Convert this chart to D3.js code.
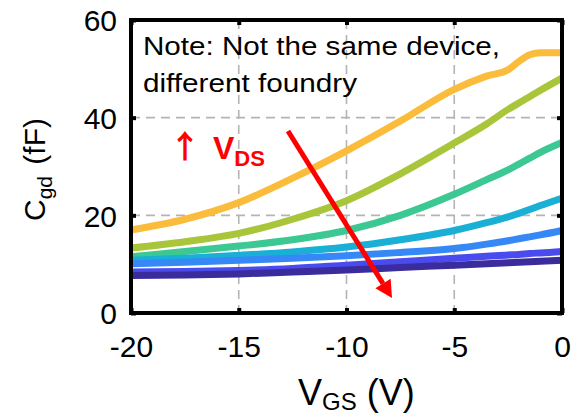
<!DOCTYPE html>
<html>
<head>
<meta charset="utf-8">
<script src="https://cdn.jsdelivr.net/npm/d3@7"></script>
<style>
  body { margin: 0; background: #fff; }
  svg { display: block; }
  text { font-family: "Liberation Sans", Arial, Helvetica, sans-serif; }
</style>
</head>
<body>
<svg id="chart" width="578" height="414"></svg>
<script>
// Gate voltage sweep (V)
const vgs = [-20, -17.5, -15, -12.5, -10, -7.5, -5, -3.5, -2.5, -2, -1.5, -1, 0];

// Cgd (fF), one curve per drain bias, lowest VDS first
const cgdVds1 = [17.0, 19.2, 22.6, 27.6, 33.2, 39.3, 45.8, 48.5, 49.8, 51.5, 52.9, 53.3, 53.3];
const cgdVds2 = [13.3, 14.6, 16.3, 19.2, 23.0, 28.5, 34.8, 38.7, 41.7, 43.0, 44.3, 45.6, 48.1];
const cgdVds3 = [11.5, 12.6, 13.7, 15.0, 16.9, 20.0, 24.3, 27.3, 29.3, 30.5, 31.7, 32.9, 34.9];
const cgdVds4 = [10.8, 11.2, 11.8, 12.5, 13.5, 15.0, 16.9, 18.5, 19.7, 20.4, 21.2, 22.0, 23.5];
const cgdVds5 = [10.1, 10.4, 10.8, 11.2, 11.7, 12.4, 13.2, 14.1, 14.8, 15.2, 15.6, 16.0, 16.9];
const cgdVds6 = [8.4, 8.5, 8.7, 9.1, 9.8, 10.5, 11.2, 11.6, 11.9, 12.0, 12.2, 12.3, 12.6];
const cgdVds7 = [7.7, 7.8, 8.0, 8.4, 8.8, 9.3, 9.8, 10.1, 10.3, 10.4, 10.5, 10.6, 10.8];

const seriesList = [cgdVds1, cgdVds2, cgdVds3, cgdVds4, cgdVds5, cgdVds6, cgdVds7];
const seriesColors = ["#FCBC3B", "#A9C539", "#3CC893", "#1AAFD5", "#3688F6", "#4A4BEE", "#3B2C9E"];

const xTicks = [-20, -15, -10, -5, 0];
const yTicks = [0, 20, 40, 60];

const svg = d3.select("#chart");
const plotL = 131, plotR = 562, plotT = 20, plotB = 313;

const x = d3.scaleLinear().domain([-20, 0]).range([plotL, plotR]);
const y = d3.scaleLinear().domain([0, 60]).range([plotB, plotT]);

// dashed grid
const grid = svg.append("g").attr("stroke", "#b4b4b4").attr("stroke-width", 1.6)
  .attr("stroke-dasharray", "9,6");
grid.selectAll(".gx").data(xTicks.slice(1, -1)).join("line")
  .attr("x1", d => x(d)).attr("x2", d => x(d)).attr("y1", plotT).attr("y2", plotB);
grid.selectAll(".gy").data(yTicks.slice(1, -1)).join("line")
  .attr("x1", plotL).attr("x2", plotR).attr("y1", d => y(d)).attr("y2", d => y(d));

// curves
const line = d3.line().x((d, i) => x(vgs[i])).y(d => y(d)).curve(d3.curveMonotoneX);
svg.append("g").selectAll("path").data(seriesList).join("path")
  .attr("d", d => line(d))
  .attr("fill", "none")
  .attr("stroke", (d, i) => seriesColors[i])
  .attr("stroke-width", 7)
  .attr("stroke-linejoin", "round");

// axes with inward ticks; labels use a plain hyphen for the sign
const tickLen = 5;
const plainFmt = d => String(d);
const xAxisB = d3.axisBottom(x).tickValues(xTicks).tickSize(-tickLen).tickPadding(23)
  .tickFormat(plainFmt);
const xAxisT = d3.axisTop(x).tickValues(xTicks).tickSize(-tickLen).tickFormat("");
const yAxisL = d3.axisLeft(y).tickValues(yTicks).tickSize(-tickLen).tickPadding(14)
  .tickFormat(plainFmt);
const yAxisR = d3.axisRight(y).tickValues(yTicks).tickSize(-tickLen).tickFormat("");

function styleAxis(g) {
  g.select(".domain").remove();
  g.selectAll(".tick line").attr("stroke", "#000").attr("stroke-width", 4);
  g.selectAll(".tick text").attr("fill", "#000").attr("font-size", 30);
}
svg.append("g").attr("transform", `translate(0,${plotB})`).call(xAxisB).call(styleAxis)
  .selectAll(".tick text").attr("dy", "0.71em");
svg.append("g").attr("transform", `translate(0,${plotT})`).call(xAxisT).call(styleAxis);
svg.append("g").attr("transform", `translate(${plotL},0)`).call(yAxisL).call(styleAxis)
  .selectAll(".tick text").attr("dy", "0.36em");
svg.append("g").attr("transform", `translate(${plotR},0)`).call(yAxisR).call(styleAxis);

// frame
svg.append("rect").attr("x", plotL).attr("y", plotT)
  .attr("width", plotR - plotL).attr("height", plotB - plotT)
  .attr("fill", "none").attr("stroke", "#000").attr("stroke-width", 4);

// axis titles
const xTitle = svg.append("text").attr("x", 298).attr("y", 405).attr("font-size", 36).attr("fill", "#000");
xTitle.append("tspan").text("V");
xTitle.append("tspan").attr("font-size", 24).attr("dy", 5).text("GS");
xTitle.append("tspan").attr("dy", -5).text(" (V)");

const yTitle = svg.append("text")
  .attr("transform", "translate(45,221) rotate(-90)")
  .attr("font-size", 30).attr("fill", "#000");
yTitle.append("tspan").text("C");
yTitle.append("tspan").attr("font-size", 21).attr("dy", 7).text("gd");
yTitle.append("tspan").attr("dy", -7).attr("dx", 3).text(" (fF)");

// note
svg.append("text").attr("x", 143).attr("y", 55).attr("font-size", 26)
  .attr("textLength", 357).attr("lengthAdjust", "spacingAndGlyphs")
  .text("Note: Not the same device,");
svg.append("text").attr("x", 143).attr("y", 92).attr("font-size", 26)
  .attr("textLength", 214).attr("lengthAdjust", "spacingAndGlyphs")
  .text("different foundry");

// VDS direction annotation
svg.append("text").attr("x", 169).attr("y", 158).attr("font-size", 32)
  .style("font-family", "'Noto Sans CJK SC', 'DejaVu Sans', sans-serif")
  .style("font-weight", "bold")
  .attr("fill", "#ff0000").text("\u2191");
const vds = svg.append("text").attr("x", 213).attr("y", 159).attr("font-size", 32)
  .attr("font-weight", "bold").attr("fill", "#ff0000");
vds.append("tspan").text("V");
vds.append("tspan").attr("font-size", 22).attr("dy", 7).text("DS");

// red arrow
const a0 = [288, 131], a1 = [392, 298];
const ang = Math.atan2(a1[1] - a0[1], a1[0] - a0[0]);
const headLen = 17, headHalf = 9;
const baseX = a1[0] - headLen * Math.cos(ang), baseY = a1[1] - headLen * Math.sin(ang);
svg.append("line").attr("x1", a0[0]).attr("y1", a0[1]).attr("x2", baseX).attr("y2", baseY)
  .attr("stroke", "#ff0000").attr("stroke-width", 5);
svg.append("path")
  .attr("d", d3.line()([
    a1,
    [baseX + headHalf * Math.sin(ang), baseY - headHalf * Math.cos(ang)],
    [baseX - headHalf * Math.sin(ang), baseY + headHalf * Math.cos(ang)]
  ]) + "Z")
  .attr("fill", "#ff0000");
</script>
</body>
</html>
